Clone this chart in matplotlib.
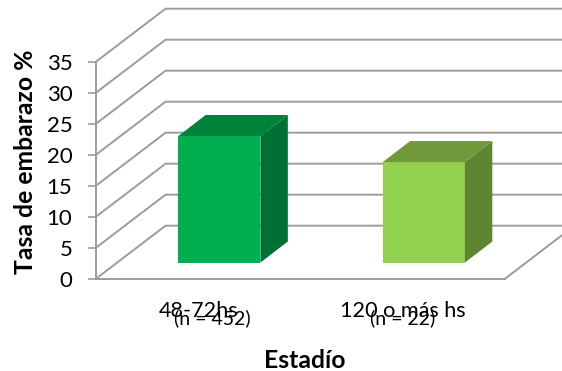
import matplotlib.pyplot as plt
from matplotlib.patches import Polygon

# Data
categories = ['48-72hs', '120 o más hs']
sample_sizes = ['(n = 452)', '(n = 22)']
pregnancy_rate = [20.4, 16.2]
y_ticks = [0, 5, 10, 15, 20, 25, 30, 35]

plt.rcParams['font.family'] = ['Lato', 'DejaVu Sans']

W, H = 562, 371
fig = plt.figure(figsize=(W / 100, H / 100), dpi=100)
# front plane of the fake 3D box
ax = fig.add_axes([96 / W, 1 - 278.7 / H, 409 / W, 217 / H])
ax.set_xlim(0, 2)
ax.set_ylim(0, 35)

grid_color = '#9c9c9c'
depth_x = 0.34   # wall depth, x units
depth_y = 8.55   # wall depth, y units

# Gridlines: diagonal on side wall, horizontal on back wall
for v in y_ticks:
    ax.plot([0, depth_x, 2 + depth_x], [v, v + depth_y, v + depth_y],
            color=grid_color, lw=1.4, clip_on=False, zorder=1)
ax.plot([2, 2 + depth_x], [0, depth_y], color=grid_color, lw=1.4, clip_on=False, zorder=1)

# Bars
bar_width = 0.402
bar_dx = 0.103   # bar front sits this far into the floor
bar_dy = 2.6
side_dx = 0.134  # bar depth
side_dy = 3.4
front_colors = ['#00b050', '#92d050']
top_colors = ['#008238', '#70993c']
side_colors = ['#007033', '#5f8532']

for i, val in enumerate(pregnancy_rate):
    x0 = i + 0.5 + bar_dx - bar_width / 2
    x1 = x0 + bar_width
    y0 = bar_dy
    y1 = bar_dy + val
    ax.add_patch(Polygon([(x0, y0), (x1, y0), (x1, y1), (x0, y1)],
                         fc=front_colors[i], ec='none', clip_on=False, zorder=3))
    ax.add_patch(Polygon([(x0, y1), (x1, y1), (x1 + side_dx, y1 + side_dy), (x0 + side_dx, y1 + side_dy)],
                         fc=top_colors[i], ec='none', clip_on=False, zorder=3))
    ax.add_patch(Polygon([(x1, y0), (x1 + side_dx, y0 + side_dy), (x1 + side_dx, y1 + side_dy), (x1, y1)],
                         fc=side_colors[i], ec='none', clip_on=False, zorder=3))

# Axes
for s in ['top', 'right']:
    ax.spines[s].set_visible(False)
for s in ['left', 'bottom']:
    ax.spines[s].set_color(grid_color)
    ax.spines[s].set_linewidth(1.4)
ax.patch.set_alpha(0)

ax.set_yticks(y_ticks)
ax.tick_params(axis='y', length=6, width=1.2, color=grid_color, labelsize=16, pad=11, labelcolor='black')
ax.set_xticks([0.5, 1.5])
ax.set_xticklabels(categories, fontsize=15.6)
ax.tick_params(axis='x', length=0, pad=16)

# n labels overlap the category labels in the original
for i, lab in enumerate(sample_sizes):
    ax.annotate(lab, xy=(i + 0.5 + (0.07 if i == 0 else 0.0), 0), xytext=(0, -40),
                xycoords='data', textcoords='offset pixels',
                ha='center', va='center', fontsize=14)

ax.set_xlabel('Estadío', fontsize=17.8, fontweight='bold')
ax.xaxis.set_label_coords((305 - 96) / 409, -(361 - 278.7) / 217, transform=ax.transAxes)
ax.xaxis.label.set_verticalalignment('center')
ax.set_ylabel('Tasa de embarazo %', fontsize=17.8, fontweight='bold')
ax.yaxis.set_label_coords(-(96 - 26) / 409, (278.7 - 162) / 217, transform=ax.transAxes)
ax.yaxis.label.set_verticalalignment('center')

plt.savefig('out.png', dpi=100)
plt.close()
